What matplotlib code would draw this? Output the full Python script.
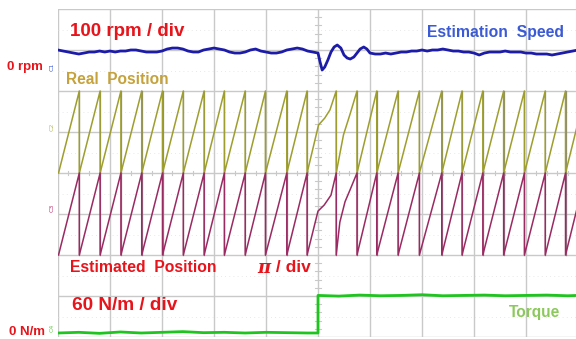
import numpy as np
import matplotlib
matplotlib.use("Agg")
import matplotlib.pyplot as plt

# ---------------- data (time in screen divisions, 10 div wide) ----------------
speed_t = [0.0, 0.1, 0.2, 0.3, 0.4, 0.5, 0.6, 0.7, 0.8, 0.9,
           1.0, 1.1, 1.2, 1.3, 1.4, 1.5, 1.6, 1.7, 1.8, 1.9,
           2.0, 2.1, 2.2, 2.3, 2.4, 2.5, 2.6, 2.7, 2.8, 2.9,
           3.0, 3.1, 3.2, 3.3, 3.4, 3.5, 3.6, 3.7, 3.8, 3.9,
           4.0, 4.1, 4.2, 4.3, 4.4, 4.5, 4.6, 4.7, 4.8, 4.9,
           5.0, 5.04, 5.08, 5.13, 5.19, 5.25, 5.31, 5.37, 5.44, 5.5,
           5.56, 5.62, 5.69, 5.75, 5.81, 5.88, 5.94,
           6.0, 6.1, 6.2, 6.3, 6.4, 6.5, 6.6, 6.7, 6.8, 6.9,
           7.0, 7.1, 7.2, 7.3, 7.4, 7.5, 7.6, 7.7, 7.8, 7.9,
           8.0, 8.1, 8.2, 8.3, 8.4, 8.5, 8.6, 8.7, 8.8, 8.9,
           9.0, 9.1, 9.2, 9.3, 9.4, 9.5, 9.6, 9.7, 9.8, 9.9, 10.0]
speed_rpm = [41.5, 39.0, 36.6, 34.1, 31.7, 34.1, 36.6, 36.6, 39.0, 36.6,
             39.0, 36.6, 39.0, 39.0, 41.5, 41.5, 39.0, 36.6, 36.6, 36.6,
             39.0, 43.9, 46.3, 46.3, 43.9, 39.0, 36.6, 36.6, 41.5, 43.9,
             46.3, 43.9, 41.5, 36.6, 34.1, 34.1, 36.6, 41.5, 43.9, 39.0,
             36.6, 34.1, 34.1, 36.6, 41.5, 43.9, 46.3, 43.9, 39.0, 36.6,
             34.1, 12.2, -7.3, 0.0, 17.1, 36.6, 48.8, 53.7, 46.3, 29.3,
             22.0, 19.5, 24.4, 34.1, 43.9, 48.8, 43.9,
             34.1, 31.7, 31.7, 34.1, 31.7, 34.1, 36.6, 36.6, 39.0, 39.0,
             41.5, 39.0, 41.5, 41.5, 43.9, 41.5, 39.0, 39.0, 36.6, 36.6,
             34.1, 29.3, 34.1, 36.6, 36.6, 36.6, 39.0, 36.6, 36.6, 36.6,
             34.1, 34.1, 31.7, 31.7, 31.7, 29.3, 31.7, 34.1, 36.6, 39.0, 41.5]

# instants where the position (0..2pi) wraps
wrap_t = [0.01, 0.41, 0.81, 1.21, 1.61, 2.01, 2.41, 2.81, 3.20, 3.60, 3.99,
          4.40, 4.79, 5.35, 5.75, 6.13, 6.54, 6.95, 7.38, 7.77, 8.17, 8.57,
          8.97, 9.37, 9.76, 10.15]
# bent teeth after the load step: tooth index -> [(t, angle / pi)]
real_bends = {12: [(5.01, 1.17), (5.13, 1.34), (5.23, 1.54)],
              13: [(5.49, 0.93), (5.62, 1.45)]}
est_bends = {12: [(5.00, 1.07), (5.12, 1.22), (5.25, 1.46)],
             13: [(5.42, 0.80), (5.52, 1.30), (5.62, 1.60)]}

torque_t = [0.0, 0.4, 0.8, 1.2, 1.6, 2.0, 2.4, 2.8, 3.2, 3.6, 4.0, 4.4, 4.8, 5.0,
            5.0, 5.4, 5.8, 6.2, 6.6, 7.0, 7.4, 7.8, 8.2, 8.6, 9.0, 9.4, 9.8, 10.0]
torque_nm = [0.0, 1.0, -0.5, 1.5, 0.0, 1.0, 2.0, 0.5, 1.0, 0.0, 1.0, 0.5, 0.0, 0.0,
             55.0, 54.0, 55.5, 54.5, 55.0, 56.0, 54.5, 55.0, 55.5, 54.5, 55.0, 55.5, 54.5, 55.0]

# trace reference levels on the 8-division screen
speed_zero, speed_scale = 6.585, 100.0     # div, rpm per div
real_zero, est_zero = 4.0, 2.0             # div, pi per div
torque_zero, torque_scale = 0.0976, 60.0   # div, N/m per div


def saw(wraps, bends):
    xs, ys, drops = [], [], []
    for i in range(len(wraps) - 1):
        xs.append(wraps[i]); ys.append(0.0)
        for (t, a) in bends.get(i, []):
            xs.append(t); ys.append(a)
        xs.append(wraps[i + 1]); ys.append(2.0)
        drops.append(wraps[i + 1])
    return np.array(xs), np.array(ys), drops


W, H = 576, 339
fig = plt.figure(figsize=(W / 100, H / 100), dpi=100)
fig.patch.set_facecolor("white")
ax = fig.add_axes([58 / W, 2 / H, 520 / W, 328 / H])
ax.set_xlim(0, 10)
ax.set_ylim(0, 8)
ax.set_axis_off()

# grid
grid_c = "#c9c9c9"
for gx in range(0, 11):
    ax.axvline(gx, color=grid_c, lw=1.0, zorder=1)
for gy in range(0, 9):
    ax.axhline(gy, color=grid_c, lw=1.0, zorder=1)
for gy in np.arange(0.5, 8, 1.0):
    ax.axhline(gy, color="#e2e2e2", lw=0.6, ls=(0, (1, 4)), zorder=1)
for tk in np.arange(0, 10.01, 0.2):
    ax.plot([tk, tk], [3.94, 4.06], color=grid_c, lw=0.8, zorder=1)
for tk in np.arange(0, 8.01, 0.2):
    ax.plot([4.94, 5.06], [tk, tk], color=grid_c, lw=0.8, zorder=1)

# speed
ax.plot(speed_t, speed_zero + np.array(speed_rpm) / speed_scale,
        color="#1c1ca8", lw=2.0, zorder=4, solid_joinstyle="round")

# positions
rx, ry, rd = saw(wrap_t, real_bends)
ex, ey, ed = saw(wrap_t, est_bends)
for d in rd:
    ax.plot([d, d], [real_zero, real_zero + 2], color="#8c8c7c", lw=0.9, zorder=2)
for d in ed:
    ax.plot([d, d], [est_zero, est_zero + 2], color="#8c7c84", lw=0.9, zorder=2)
ax.plot(rx, real_zero + ry, color="#9e9e2e", lw=1.1, zorder=3)
ax.plot(ex, est_zero + ey, color="#9a2a62", lw=1.1, zorder=3)

# torque
ax.plot(torque_t, torque_zero + np.array(torque_nm) / torque_scale,
        color="#1fc51f", lw=2.0, zorder=4)


def px_text(x, y, s, color, size, ha="left", **kw):
    fig.text(x / W, 1 - y / H, s, color=color, fontsize=size, ha=ha, va="center",
             fontweight="bold", family=["Liberation Sans", "DejaVu Sans"], **kw)


red = "#e8141c"
px_text(70, 32, "100 rpm / div", red, 13.5)
px_text(427, 33, "Estimation  Speed", "#3b5ad6", 11.3)
px_text(7, 67, "0 rpm", red, 9.5)
px_text(66, 80, "Real  Position", "#c6a23c", 11.2)
px_text(70, 268, "Estimated  Position", red, 11.3)
fig.text(257 / W, 1 - 268 / H, "π", color=red, fontsize=13, ha="left", va="center",
         fontweight="bold", style="italic", family=["DejaVu Serif"])
px_text(271, 268, " / div", red, 12.5)
px_text(72, 305, "60 N/m / div", red, 13.7)
px_text(9, 332, "0 N/m", red, 9.5)
px_text(509, 313, "Torque", "#8cc95c", 11.2)

# channel markers
for (y, c, s) in [(67, "#3b5ad6", "1"), (127, "#b8bf5a", "2"),
                  (208, "#c03070", "3"), (328, "#6ccc4c", "4")]:
    fig.text(52 / W, 1 - y / H, "C" + s, color=c, fontsize=4.5, rotation=90,
             ha="center", va="center")

fig.savefig("out.png", dpi=100, facecolor="white")
